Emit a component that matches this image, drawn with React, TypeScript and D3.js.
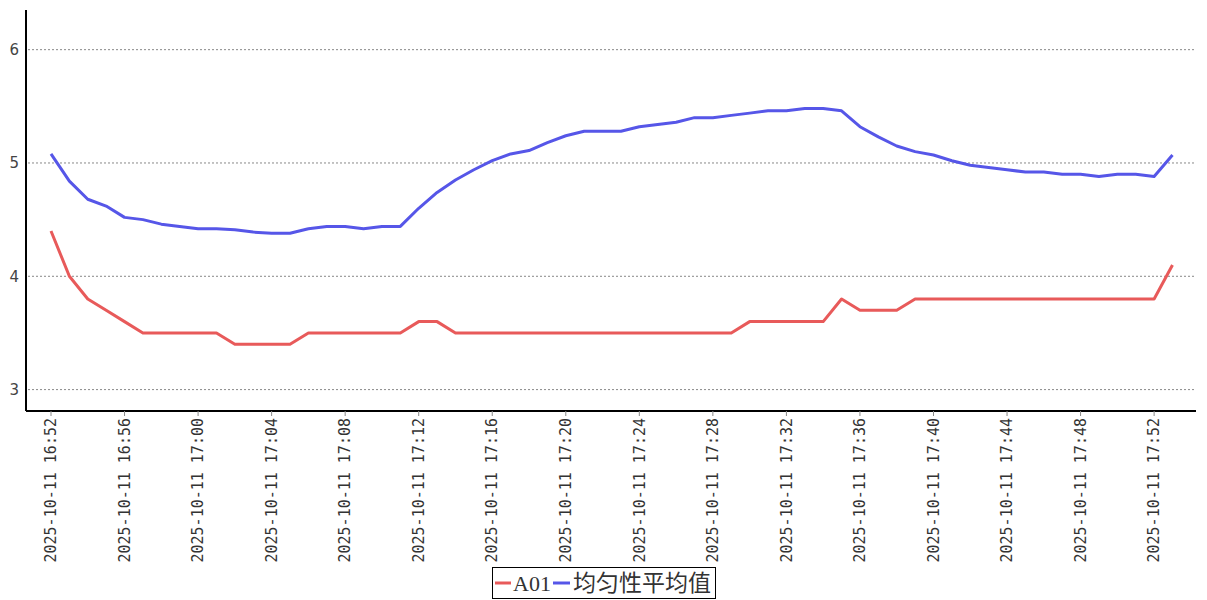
import React from "react";
import * as d3 from "d3";

const startTime = new Date(2025, 9, 11, 16, 52);
const pad = (n: number) => String(n).padStart(2, "0");
const categories: string[] = Array.from({ length: 62 }, (_, i) => {
  const t = new Date(startTime.getTime() + i * 60000);
  return `2025-10-11 ${pad(t.getHours())}:${pad(t.getMinutes())}`;
});

const seriesA01: number[] = [
  4.4, 4.0, 3.8, 3.7, 3.6, 3.5, 3.5, 3.5, 3.5, 3.5,
  3.4, 3.4, 3.4, 3.4, 3.5, 3.5, 3.5, 3.5, 3.5, 3.5,
  3.6, 3.6, 3.5, 3.5, 3.5, 3.5, 3.5, 3.5, 3.5, 3.5,
  3.5, 3.5, 3.5, 3.5, 3.5, 3.5, 3.5, 3.5, 3.6, 3.6,
  3.6, 3.6, 3.6, 3.8, 3.7, 3.7, 3.7, 3.8, 3.8, 3.8,
  3.8, 3.8, 3.8, 3.8, 3.8, 3.8, 3.8, 3.8, 3.8, 3.8,
  3.8, 4.1,
];

const seriesAvg: number[] = [
  5.08, 4.84, 4.68, 4.62, 4.52, 4.5, 4.46, 4.44, 4.42, 4.42,
  4.41, 4.39, 4.38, 4.38, 4.42, 4.44, 4.44, 4.42, 4.44, 4.44,
  4.6, 4.74, 4.85, 4.94, 5.02, 5.08, 5.11, 5.18, 5.24, 5.28,
  5.28, 5.28, 5.32, 5.34, 5.36, 5.4, 5.4, 5.42, 5.44, 5.46,
  5.46, 5.48, 5.48, 5.46, 5.32, 5.23, 5.15, 5.1, 5.07, 5.02,
  4.98, 4.96, 4.94, 4.92, 4.92, 4.9, 4.9, 4.88, 4.9, 4.9,
  4.88, 5.07,
];

const yTicks: number[] = [3, 4, 5, 6];
const seriesNames: string[] = ["A01", "均匀性平均值"];
const seriesColors: string[] = ["#e85a5a", "#5656e8"];

export default function App() {
  const W = 1207;
  const H = 600;
  const axisX = 26;
  const axisY = 411;
  const plotRight = 1196;
  const x = d3.scalePoint<number>().domain(d3.range(categories.length)).range([51, 1172.5]);
  const y = d3.scaleLinear().domain([2.82, 6.35]).range([410, 10]);
  const line = d3
    .line<number>()
    .x((_, i) => x(i) as number)
    .y((d) => y(d));
  const xTickIdx = d3.range(0, categories.length, 4);
  const series = [seriesA01, seriesAvg];

  return (
    <svg
      width={W}
      height={H}
      style={{ position: "absolute", left: 0, top: 0, background: "#fff" }}
    >
      {yTicks.map((t) => (
        <g key={t}>
          <line
            x1={axisX + 2}
            x2={plotRight}
            y1={y(t)}
            y2={y(t)}
            stroke="#888"
            strokeWidth={1}
            strokeDasharray="2,2"
          />
          <text
            x={19}
            y={y(t)}
            dy="0.35em"
            textAnchor="end"
            fontFamily="DejaVu Sans"
            fontSize={15}
            fill="#444"
          >
            {t}
          </text>
        </g>
      ))}
      <line x1={axisX} x2={axisX} y1={10} y2={axisY} stroke="#000" strokeWidth={2} />
      <line x1={axisX} x2={plotRight} y1={axisY} y2={axisY} stroke="#000" strokeWidth={2} />
      {xTickIdx.map((i) => (
        <g key={i} transform={`translate(${x(i)},0)`}>
          <line y1={axisY} y2={axisY + 5} stroke="#888" strokeWidth={1} />
          <text
            transform={`translate(0,${axisY + 7}) rotate(-90)`}
            textAnchor="end"
            dy="0.35em"
            fontFamily="DejaVu Sans Mono"
            fontSize={15}
            fill="#333"
          >
            {categories[i]}
          </text>
        </g>
      ))}
      {series.map((s, k) => (
        <path
          key={k}
          d={line(s) || ""}
          fill="none"
          stroke={seriesColors[k]}
          strokeWidth={3}
          strokeLinejoin="round"
        />
      ))}
      <g>
        <rect x={492.5} y={567.5} width={223} height={31} fill="#fff" stroke="#000" strokeWidth={1} />
        <line x1={495} x2={511} y1={583} y2={583} stroke={seriesColors[0]} strokeWidth={3} />
        <text x={513} y={583} dy="0.35em" fontFamily="Liberation Serif, Noto Sans CJK SC" fontSize={22} fill="#333">
          {seriesNames[0]}
        </text>
        <line x1={553} x2={570} y1={583} y2={583} stroke={seriesColors[1]} strokeWidth={3} />
        <text x={573} y={583} dy="0.35em" fontFamily="Noto Sans CJK SC" fontSize={23} fill="#333">
          {seriesNames[1]}
        </text>
      </g>
    </svg>
  );
}
